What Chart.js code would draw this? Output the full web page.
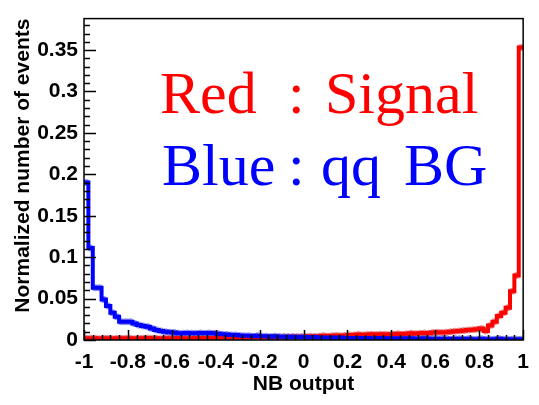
<!DOCTYPE html>
<html>
<head>
<meta charset="utf-8">
<title>NB output</title>
<script src="https://cdn.jsdelivr.net/npm/chart.js@4/dist/chart.umd.min.js"></script>
<style>
  html, body { margin: 0; padding: 0; background: #fff; }
  #wrap { width: 539px; height: 405px; }
</style>
</head>
<body>
<div id="wrap"><canvas id="nbChart" width="539" height="405"></canvas></div>
<script>
// Histogram binning: 100 bins over [-1, 1]
const binLow = -1;
const binHigh = 1;
const binCount = 100;

// Normalized NB output, signal sample (red)
const signalValues = [
  0.002, 0.002, 0.002, 0.0015, 0.002, 0.002, 0.0015, 0.002, 0.002, 0.002,
  0.002, 0.0015, 0.002, 0.002, 0.0025, 0.002, 0.002, 0.0015, 0.002, 0.002,
  0.002, 0.0025, 0.002, 0.002, 0.002, 0.0025, 0.002, 0.0025, 0.0025, 0.002,
  0.0025, 0.003, 0.0025, 0.003, 0.003, 0.003, 0.0025, 0.003, 0.003, 0.0035,
  0.003, 0.003, 0.0035, 0.003, 0.0035, 0.0035, 0.004, 0.0035, 0.004, 0.004,
  0.004, 0.0045, 0.004, 0.0045, 0.005, 0.0045, 0.005, 0.0055, 0.005, 0.0055,
  0.006, 0.006, 0.0065, 0.006, 0.0065, 0.007, 0.0065, 0.007, 0.007, 0.0065,
  0.007, 0.0075, 0.007, 0.0075, 0.008, 0.0075, 0.008, 0.0085, 0.008, 0.009,
  0.0095, 0.009, 0.0095, 0.010, 0.0105, 0.011, 0.0115, 0.012, 0.0125, 0.013,
  0.014, 0.011, 0.0175, 0.022, 0.029, 0.033, 0.039, 0.059, 0.078, 0.353
];

// Normalized NB output, qq background sample (blue)
const backgroundValues = [
  0.190, 0.111, 0.063, 0.063, 0.049, 0.041, 0.033, 0.028, 0.022, 0.022,
  0.022, 0.020, 0.018, 0.017, 0.016, 0.014, 0.012, 0.011, 0.010, 0.0095,
  0.009, 0.008, 0.008, 0.0085, 0.008, 0.008, 0.0085, 0.008, 0.0085, 0.008,
  0.0075, 0.007, 0.0065, 0.006, 0.006, 0.0055, 0.005, 0.005, 0.0045, 0.005,
  0.0045, 0.0045, 0.004, 0.0045, 0.004, 0.004, 0.0035, 0.004, 0.0035, 0.0035,
  0.0035, 0.003, 0.0035, 0.003, 0.003, 0.003, 0.003, 0.0025, 0.003, 0.0025,
  0.0025, 0.0025, 0.0025, 0.002, 0.0025, 0.002, 0.002, 0.0025, 0.002, 0.002,
  0.002, 0.002, 0.0015, 0.002, 0.002, 0.0015, 0.0015, 0.002, 0.0015, 0.0015,
  0.0015, 0.0015, 0.0015, 0.001, 0.0015, 0.0015, 0.001, 0.0015, 0.001, 0.001,
  0.0015, 0.001, 0.001, 0.001, 0.0015, 0.001, 0.001, 0.001, 0.001, 0.001
];

// Axis ticks
const xTickValues = [-1, -0.8, -0.6, -0.4, -0.2, 0, 0.2, 0.4, 0.6, 0.8, 1];
const xTickLabels = ['-1', '-0.8', '-0.6', '-0.4', '-0.2', '0', '0.2', '0.4', '0.6', '0.8', '1'];
const yTickValues = [0, 0.05, 0.1, 0.15, 0.2, 0.25, 0.3, 0.35];
const yTickLabels = ['0', '0.05', '0.1', '0.15', '0.2', '0.25', '0.3', '0.35'];
const yMax = 0.388;

const binWidth = (binHigh - binLow) / binCount;

// step outline: one point per bin low edge, plus the closing high edge
function stepPoints(values) {
  const pts = values.map((v, i) => ({ x: binLow + i * binWidth, y: v }));
  pts.push({ x: binHigh, y: values[values.length - 1] });
  return pts;
}
function centerPoints(values) {
  return values.map((v, i) => ({ x: binLow + (i + 0.5) * binWidth, y: v }));
}

const axisFont = { family: '"Liberation Sans", Arial, sans-serif', size: 21, weight: 'bold' };

// frame, inward ROOT-style ticks and the colour key
const framePlugin = {
  id: 'frame',
  afterDatasetsDraw(chart) {
    const { ctx, chartArea: a, scales: { x, y } } = chart;
    ctx.save();
    ctx.strokeStyle = '#000';
    ctx.lineWidth = 1.5;
    ctx.beginPath();
    // x ticks: major every 0.2, minor every 0.04
    for (let k = 0; k <= 50; k++) {
      const v = -1 + k * 0.04;
      const px = Math.round(x.getPixelForValue(v)) + 0.5;
      const len = (k % 5 === 0) ? 10 : 5;
      ctx.moveTo(px, a.bottom);
      ctx.lineTo(px, a.bottom - len);
    }
    // y ticks: major every 0.05, minor every 0.01
    for (let k = 0; k * 0.01 <= yMax; k++) {
      const py = Math.round(y.getPixelForValue(k * 0.01)) + 0.5;
      const len = (k % 5 === 0) ? 12 : 6;
      ctx.moveTo(a.left, py);
      ctx.lineTo(a.left + len, py);
    }
    ctx.stroke();
    ctx.strokeRect(a.left, a.top, a.right - a.left, a.bottom - a.top);
    ctx.restore();
  },
  afterDraw(chart) {
    const ctx = chart.ctx;
    ctx.save();
    ctx.font = '60px "Liberation Serif", "Times New Roman", serif';
    ctx.textBaseline = 'alphabetic';
    ctx.fillStyle = '#ff0000';
    ctx.fillText('Red', 160, 113);
    ctx.fillText(':', 288, 113);
    ctx.fillText('Signal', 325, 113);
    ctx.fillStyle = '#0000ff';
    ctx.fillText('Blue', 162, 185);
    ctx.fillText(':', 288, 185);
    ctx.fillText('qq', 321, 185);
    ctx.fillText('BG', 404, 185);
    ctx.restore();
  }
};

new Chart(document.getElementById('nbChart'), {
  type: 'line',
  data: {
    datasets: [
      {
        label: 'qq BG',
        data: stepPoints(backgroundValues),
        borderColor: '#0000ff',
        borderWidth: 4,
        stepped: 'before',
        pointRadius: 0,
        fill: false,
        order: 0
      },
      {
        label: 'Signal',
        data: stepPoints(signalValues),
        borderColor: '#ff0000',
        borderWidth: 4,
        stepped: 'before',
        pointRadius: 0,
        fill: false,
        order: 1
      },
      {
        label: 'qq BG points',
        data: centerPoints(backgroundValues),
        showLine: false,
        pointRadius: 3.5,
        pointBorderWidth: 0,
        pointBackgroundColor: 'rgba(60, 60, 220, 0.55)',
        order: 2
      },
      {
        label: 'Signal points',
        data: centerPoints(signalValues),
        showLine: false,
        pointRadius: 3.5,
        pointBorderWidth: 0,
        pointBackgroundColor: 'rgba(210, 60, 60, 0.55)',
        order: 3
      }
    ]
  },
  options: {
    responsive: false,
    animation: false,
    layout: { padding: { top: 10, right: 12, left: 0, bottom: 0 } },
    plugins: { legend: { display: false }, tooltip: { enabled: false } },
    scales: {
      x: {
        type: 'linear',
        min: binLow,
        max: binHigh,
        grid: { display: false, drawTicks: false },
        border: { display: false },
        afterBuildTicks: (scale) => { scale.ticks = xTickValues.map(v => ({ value: v })); },
        afterFit: (scale) => { scale.height = 65; },
        ticks: {
          color: '#000',
          font: axisFont,
          padding: 10,
          maxRotation: 0,
          autoSkip: false,
          callback: (v, i) => xTickLabels[i]
        },
        title: {
          display: true,
          text: 'NB output',
          color: '#000',
          font: axisFont,
          padding: { top: 0, bottom: 8 }
        }
      },
      y: {
        type: 'linear',
        min: 0,
        max: yMax,
        grid: { display: false, drawTicks: false },
        border: { display: false },
        afterBuildTicks: (scale) => { scale.ticks = yTickValues.map(v => ({ value: v })); },
        afterFit: (scale) => { scale.width = 84; },
        ticks: {
          color: '#000',
          font: axisFont,
          padding: 6,
          autoSkip: false,
          callback: (v, i) => yTickLabels[i]
        },
        title: {
          display: true,
          text: 'Normalized number of events',
          color: '#000',
          font: axisFont,
          align: 'end',
          padding: { top: 11, bottom: 0 }
        }
      }
    }
  },
  plugins: [framePlugin]
});
</script>
</body>
</html>
